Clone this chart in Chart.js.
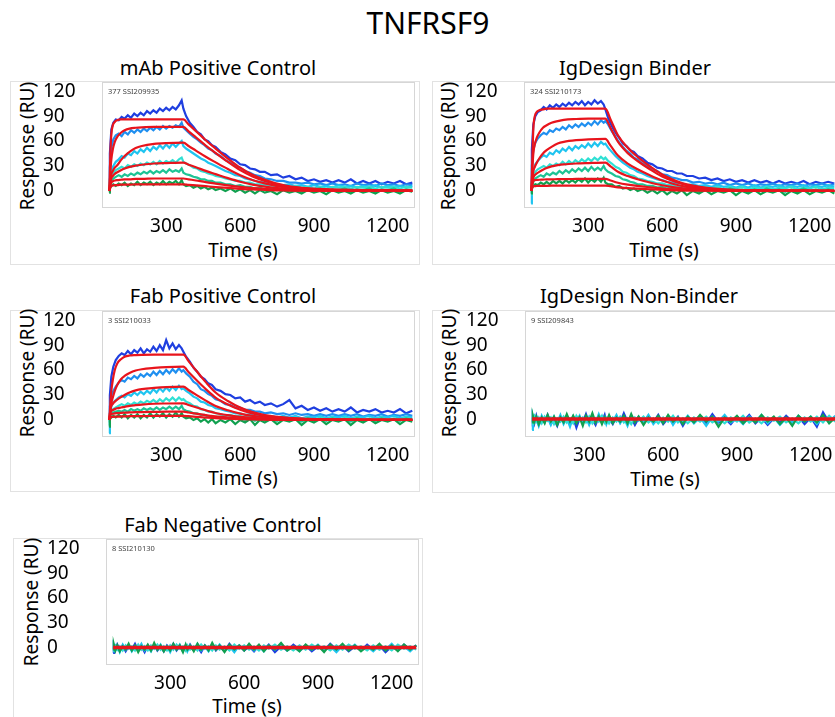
<!DOCTYPE html>
<html>
<head>
<meta charset="utf-8">
<script src="https://cdn.jsdelivr.net/npm/chart.js@4.4.1/dist/chart.umd.min.js"></script>
<style>
  html, body { margin: 0; padding: 0; background: #fff; }
  body { width: 835px; height: 717px; overflow: hidden; position: relative; font-family: "Noto Sans", sans-serif; color: #000; }
  .box { position: absolute; border: 1px solid #e2e2e2; box-sizing: border-box; }
  .lbl { position: absolute; white-space: nowrap; transform: translate(-50%, -50%); }
  .ptitle { font-size: 20px; }
  .xtitle { font-size: 19px; }
  .ytitle { position: absolute; white-space: nowrap; font-size: 19px; transform: translate(-50%, -50%) rotate(-90deg); }
  canvas { position: absolute; }
</style>
</head>
<body>
<div class="lbl" style="left:428px;top:22px;font-size:30px">TNFRSF9</div>

<div class="box" style="left:10px;top:81px;width:410px;height:184px"></div>
<div class="box" style="left:432px;top:81px;width:410px;height:184px"></div>
<div class="box" style="left:10px;top:310px;width:410px;height:182px"></div>
<div class="box" style="left:432px;top:310px;width:410px;height:183px"></div>
<div class="box" style="left:13px;top:538px;width:410px;height:190px"></div>

<div class="lbl ptitle" style="left:218px;top:67px">mAb Positive Control</div>
<div class="lbl ptitle" style="left:635px;top:67px">IgDesign Binder</div>
<div class="lbl ptitle" style="left:223px;top:295px">Fab Positive Control</div>
<div class="lbl ptitle" style="left:639px;top:295px">IgDesign Non-Binder</div>
<div class="lbl ptitle" style="left:223px;top:524px">Fab Negative Control</div>

<div class="ytitle" style="left:27px;top:146px">Response (RU)</div>
<div class="ytitle" style="left:448px;top:146px">Response (RU)</div>
<div class="ytitle" style="left:27px;top:373px">Response (RU)</div>
<div class="ytitle" style="left:449px;top:373px">Response (RU)</div>
<div class="ytitle" style="left:31px;top:602px">Response (RU)</div>

<div class="lbl xtitle" style="left:243px;top:250px">Time (s)</div>
<div class="lbl xtitle" style="left:664px;top:250px">Time (s)</div>
<div class="lbl xtitle" style="left:243px;top:478px">Time (s)</div>
<div class="lbl xtitle" style="left:665px;top:479px">Time (s)</div>
<div class="lbl xtitle" style="left:247px;top:706px">Time (s)</div>

<canvas id="c1" width="415" height="178" style="left:0px;top:70px"></canvas>
<canvas id="c2" width="415" height="178" style="left:422px;top:70px"></canvas>
<canvas id="c3" width="415" height="178" style="left:0px;top:299px"></canvas>
<canvas id="c4" width="415" height="178" style="left:423px;top:299px"></canvas>
<canvas id="c5" width="415" height="178" style="left:4px;top:527px"></canvas>

<script>
// sample times (s) of the sensorgram traces
const sampleTimes = [67, 70, 76, 84, 94, 106, 118, 130, 143, 156,
  169, 182, 195, 208, 221, 234, 247, 260, 273, 286,
  299, 312, 325, 338, 351, 362, 369, 380, 395, 410,
  425, 440, 455, 470, 485, 500, 520, 540, 560, 580,
  600, 620, 640, 660, 680, 700, 725, 750, 775, 800,
  825, 850, 875, 900, 925, 950, 975, 1000, 1025, 1050,
  1075, 1100, 1125, 1150, 1175, 1200, 1225, 1250, 1275, 1300];
// times of the fitted curves
const fitTimes = [68, 72, 76, 82, 90, 100, 115, 130, 150, 175, 200, 250, 300, 369,
  390, 420, 460, 500, 550, 600, 650, 700, 775, 850, 950, 1050, 1150, 1300];
const flatFitTimes = [67, 1300];

const xTickValues = [300, 600, 900, 1200];
const yTickValues = [0, 30, 60, 90, 120];
const sampleIds = ['377 SSI209935', '324 SSI210173', '3 SSI210033', '9 SSI209843', '8 SSI210130'];

// mAb Positive Control
const mabBlue = [3, 45, 74, 82, 86, 85, 89, 87, 91, 88,
  93, 90, 94, 91, 96, 93, 97, 94, 99, 96,
  100, 97, 101, 98, 103, 109, 99, 90, 82, 77,
  71, 68, 62, 60, 55, 53, 47, 44, 39, 37,
  32, 31, 27, 26, 23, 23, 19, 20, 16, 18,
  14, 16, 12, 14, 11, 13, 10, 13, 10, 14,
  9, 12, 9, 12, 8, 11, 9, 12, 8, 10];
const mabMidBlue = [1, 28, 52, 62, 67, 69, 66, 71, 68, 73,
  70, 74, 71, 75, 72, 76, 73, 77, 74, 78,
  75, 78, 76, 79, 77, 82, 76, 73, 69, 65,
  62, 58, 55, 51, 49, 45, 42, 37, 34, 30,
  28, 24, 22, 19, 18, 15, 14, 12, 12, 10,
  10, 9, 10, 8, 9, 7, 9, 7, 8, 6,
  9, 7, 8, 6, 9, 7, 8, 6, 8, 7];
const mabCyan = [0, 14, 24, 30, 35, 38, 42, 40, 45, 43,
  48, 45, 50, 47, 52, 48, 53, 50, 55, 51,
  56, 52, 57, 53, 57, 60, 54, 51, 48, 45,
  42, 39, 37, 34, 32, 30, 27, 24, 22, 19,
  18, 15, 14, 12, 11, 10, 9, 8, 7, 8,
  6, 7, 5, 7, 5, 6, 4, 7, 5, 6,
  4, 6, 5, 7, 4, 6, 5, 6, 4, 6];
const mabAqua = [0, 10, 17, 22, 25, 27, 29, 27, 31, 29,
  32, 30, 33, 31, 34, 32, 35, 32, 36, 33,
  36, 34, 37, 34, 38, 40, 35, 33, 31, 28,
  27, 24, 23, 21, 20, 18, 17, 15, 14, 12,
  12, 10, 10, 8, 8, 7, 7, 5, 6, 4,
  6, 4, 5, 3, 5, 3, 5, 4, 5, 3,
  5, 4, 5, 3, 5, 4, 5, 3, 5, 4];
const mabTeal = [0, 7, 12, 15, 17, 19, 17, 20, 18, 21,
  19, 22, 20, 23, 21, 24, 21, 24, 22, 25,
  22, 26, 23, 25, 23, 27, 22, 20, 19, 17,
  16, 14, 14, 12, 12, 10, 10, 8, 8, 6,
  7, 5, 5, 3, 4, 2, 4, 1, 3, 1,
  3, 0, 3, 1, 3, 0, 2, 1, 3, 0,
  2, 1, 3, 0, 2, 1, 3, 0, 2, 1];
const mabGreen = [-2, 3, 6, 8, 6, 9, 7, 10, 6, 9,
  7, 11, 7, 10, 8, 11, 7, 10, 8, 12,
  8, 11, 9, 12, 8, 13, 8, 6, 7, 4,
  6, 3, 5, 2, 4, 1, 3, 0, 3, -1,
  2, -2, 1, -3, 1, -2, 0, -4, 1, -2,
  0, -3, 1, -2, 0, -4, 1, -2, 0, -3,
  1, -2, 0, -3, 1, -2, 0, -3, 1, -1];
const mabFit1 = [0, 45, 68, 79, 83, 85, 86, 86, 86, 86, 86, 86, 86, 86,
  80, 72, 61, 51, 39, 28, 19.5, 13.5, 7, 3.8, 2, 1.2, 0.8, 0.5];
const mabFit2 = [0, 22, 38, 50, 59, 65, 70, 73, 75, 76, 76.5, 77, 77, 77,
  71.6, 64.5, 54.6, 45.7, 34.9, 25.1, 17.5, 12.1, 6.2, 3.4, 1.8, 1.1, 0.7, 0.5];
const mabFit3 = [0, 12, 20, 24, 28, 31, 37, 42, 47, 51.5, 54, 56.5, 57.5, 58,
  54, 48.5, 41.1, 34.4, 26.3, 18.9, 13.2, 9.1, 4.7, 2.6, 1.3, 0.8, 0.5, 0.3];
const mabFit4 = [0, 10, 15, 18, 20.5, 22.5, 25, 27, 29, 30.5, 31.5, 33, 33.5, 34,
  31.6, 28.5, 24.1, 20.2, 15.4, 11.1, 7.7, 5.3, 2.8, 1.5, 0.8, 0.5, 0.3, 0.2];
const mabFit5 = [0, 7, 10, 11.5, 12.5, 13, 13.5, 14, 14, 14.5, 14.5, 15, 15, 15,
  14, 12.6, 10.6, 8.9, 6.8, 4.9, 3.4, 2.4, 1.2, 0.7, 0.3, 0.2, 0.1, 0.1];
const mabFit6 = [0, 4, 6, 6.5, 7, 7, 7.5, 7.5, 7.5, 8, 8, 8, 8, 8,
  7.4, 6.7, 5.7, 4.7, 3.6, 2.6, 1.8, 1.3, 0.6, 0.4, 0.2, 0.1, 0.1, 0];

// IgDesign Binder
const igbBlue = [2, 50, 80, 90, 95, 97, 101, 98, 103, 100,
  104, 101, 105, 102, 106, 103, 107, 104, 108, 103,
  107, 104, 109, 105, 108, 104, 98, 88, 78, 70,
  64, 57, 54, 49, 47, 42, 39, 34, 32, 28,
  27, 24, 24, 21, 21, 18, 18, 15, 16, 13,
  15, 12, 14, 11, 13, 10, 13, 10, 12, 9,
  12, 9, 11, 9, 12, 8, 11, 9, 11, 9];
const igbMidBlue = [1, 30, 50, 58, 63, 67, 70, 68, 73, 71,
  75, 73, 77, 74, 79, 76, 80, 77, 81, 78,
  82, 79, 84, 80, 85, 82, 84, 80, 72, 65,
  58, 53, 48, 45, 40, 38, 33, 30, 26, 24,
  20, 19, 16, 15, 13, 13, 10, 11, 9, 10,
  8, 10, 7, 9, 7, 9, 6, 8, 7, 9,
  6, 8, 7, 9, 6, 8, 7, 9, 6, 8];
const igbCyan = [-15, 12, 25, 32, 36, 40, 43, 41, 46, 44,
  49, 46, 51, 48, 53, 49, 54, 51, 55, 52,
  57, 53, 58, 54, 59, 56, 57, 52, 47, 42,
  38, 34, 31, 28, 26, 23, 21, 18, 16, 14,
  13, 11, 10, 9, 9, 7, 8, 6, 7, 5,
  7, 5, 6, 4, 6, 4, 7, 4, 6, 5,
  7, 4, 6, 5, 7, 4, 6, 5, 7, 5];
const igbAqua = [-4, 10, 18, 23, 26, 28, 30, 28, 32, 30,
  33, 31, 35, 32, 36, 33, 37, 34, 38, 35,
  39, 36, 40, 37, 41, 38, 40, 36, 33, 29,
  27, 23, 22, 19, 18, 15, 14, 12, 11, 9,
  9, 7, 7, 5, 6, 4, 5, 3, 5, 3,
  5, 2, 5, 3, 5, 2, 4, 3, 5, 2,
  4, 3, 5, 2, 4, 3, 5, 2, 4, 3];
const igbTeal = [0, 6, 11, 15, 17, 19, 17, 21, 19, 22,
  20, 24, 21, 25, 22, 26, 23, 27, 24, 28,
  24, 29, 25, 28, 25, 30, 26, 23, 21, 18,
  17, 14, 13, 11, 10, 8, 8, 6, 6, 4,
  5, 3, 4, 2, 3, 1, 3, 0, 3, 1,
  2, 0, 3, 1, 2, -1, 2, 0, 3, 0,
  2, -1, 2, 0, 3, 0, 2, -1, 2, 0];
const igbGreen = [-3, 3, 6, 8, 7, 10, 8, 11, 8, 12,
  9, 12, 9, 13, 10, 13, 10, 14, 11, 15,
  10, 14, 11, 15, 11, 16, 10, 8, 8, 5,
  6, 3, 4, 1, 3, 0, 2, -2, 1, -3,
  1, -4, 0, -3, 1, -5, 0, -3, 1, -4,
  0, -2, 1, -5, 0, -3, 1, -4, 0, -2,
  1, -5, 0, -3, 1, -4, 0, -2, 1, -3];
const igbFit1 = [0, 40, 75, 90, 95, 97, 98, 99, 99, 99, 99, 99, 99, 99,
  86, 67, 52, 41, 29.7, 19.8, 12.9, 7.9, 4, 2, 1, 0.5, 0.3, 0.1];
const igbFit2 = [0, 25, 45, 56, 64, 70, 76, 79, 82, 84, 85.5, 86.5, 87, 87,
  75.7, 59.2, 45.5, 36, 26.1, 17.4, 11.3, 7, 3.5, 1.7, 0.9, 0.4, 0.3, 0.1];
const igbFit3 = [0, 14, 24, 29, 34, 39, 45, 49, 53, 57, 59, 61, 62, 62.5,
  54.4, 42.5, 32.8, 26, 18.8, 12.5, 8.1, 5, 2.5, 1.3, 0.6, 0.3, 0.2, 0.1];
const igbFit4 = [0, 10, 16, 19, 21, 23, 25.5, 27.5, 29.5, 31, 32, 33, 33.5, 34,
  29.6, 23.1, 17.9, 14.1, 10.2, 6.8, 4.4, 2.7, 1.4, 0.7, 0.3, 0.2, 0.1, 0];
const igbFit5 = [0, 8, 12, 13, 13.2, 13.5, 13.7, 13.9, 14, 14.2, 14.3, 14.4, 14.5, 14.5,
  12.6, 9.9, 7.6, 6, 4.4, 2.9, 1.9, 1.2, 0.6, 0.3, 0.1, 0.1, 0, 0];
const igbFit6 = [0, 4, 5.5, 5.8, 6, 6, 6.1, 6.2, 6.3, 6.4, 6.4, 6.5, 6.5, 6.5,
  5.7, 4.4, 3.4, 2.7, 2, 1.3, 0.8, 0.5, 0.3, 0.1, 0.1, 0, 0, 0];

// Fab Positive Control
const fabBlue = [3, 30, 52, 64, 72, 77, 80, 78, 83, 79,
  84, 81, 86, 80, 85, 82, 88, 83, 90, 84,
  96, 86, 92, 85, 90, 86, 82, 76, 70, 63,
  58, 52, 49, 44, 42, 37, 35, 31, 30, 26,
  27, 22, 24, 20, 22, 18, 20, 16, 19, 24,
  14, 17, 12, 15, 11, 14, 10, 13, 10, 15,
  9, 12, 10, 13, 9, 11, 9, 13, 8, 11];
const fabMidBlue = [1, 16, 28, 35, 40, 45, 48, 46, 51, 49,
  53, 50, 55, 52, 56, 53, 58, 54, 59, 55,
  60, 56, 61, 57, 62, 58, 60, 56, 52, 46,
  43, 37, 35, 31, 29, 25, 23, 19, 18, 15,
  15, 12, 12, 10, 10, 8, 9, 7, 8, 6,
  8, 6, 7, 5, 7, 5, 7, 5, 7, 5,
  7, 4, 6, 5, 7, 4, 6, 5, 7, 5];
const fabCyan = [-16, 8, 16, 21, 24, 27, 29, 27, 31, 29,
  33, 30, 34, 31, 35, 32, 37, 33, 38, 34,
  39, 35, 40, 36, 41, 37, 38, 35, 32, 28,
  26, 22, 21, 18, 17, 14, 13, 11, 10, 8,
  8, 6, 7, 5, 6, 4, 5, 3, 5, 3,
  5, 2, 4, 3, 5, 2, 4, 3, 5, 2,
  4, 3, 5, 2, 4, 3, 5, 2, 4, 3];
const fabAqua = [-6, 5, 10, 13, 15, 17, 19, 17, 20, 18,
  21, 19, 22, 20, 23, 21, 24, 21, 25, 22,
  26, 23, 27, 23, 27, 24, 25, 22, 20, 17,
  16, 13, 12, 10, 10, 8, 7, 5, 6, 4,
  5, 3, 4, 2, 4, 2, 3, 1, 3, 1,
  3, 1, 3, 0, 3, 1, 3, 0, 3, 1,
  3, 0, 2, 1, 3, 0, 2, 1, 3, 1];
const fabTeal = [-3, 4, 7, 9, 10, 11, 10, 12, 10, 13,
  11, 13, 11, 14, 12, 14, 12, 15, 12, 15,
  13, 16, 13, 16, 13, 17, 13, 11, 10, 8,
  8, 6, 6, 4, 5, 3, 4, 2, 3, 1,
  2, 0, 2, -1, 2, 0, 1, -1, 2, 0,
  1, -2, 2, 0, 1, -1, 2, 0, 1, -2,
  2, 0, 1, -1, 2, 0, 1, -1, 2, 0];
const fabGreen = [-8, 1, 3, 5, 3, 6, 3, 7, 2, 6,
  3, 7, 2, 6, 3, 8, 3, 7, 4, 8,
  3, 7, 4, 9, 4, 8, 4, 2, 3, 0,
  2, -2, 1, -3, 1, -4, 0, -3, 1, -5,
  0, -3, 1, -6, 0, -3, 1, -5, 0, -2,
  1, -6, 0, -3, 1, -5, 0, -2, 1, -6,
  0, -3, 1, -4, 0, -2, 1, -5, 0, -2];
const fabFit1 = [0, 20, 35, 48, 60, 68, 73, 76, 77.5, 78, 78.3, 78.5, 78.5, 78.5,
  70.7, 59.7, 45.5, 33, 22.8, 14.9, 9.4, 5.9, 3.1, 1.6, 0.8, 0.4, 0.2, 0.1];
const fabFit2 = [0, 12, 20, 27, 35, 42, 49, 53, 56.5, 59.5, 61, 62.5, 63.5, 64,
  57.6, 48.6, 37.1, 26.9, 18.6, 12.2, 7.7, 4.8, 2.6, 1.3, 0.6, 0.3, 0.2, 0.1];
const fabFit3 = [0, 12, 17, 19.5, 22, 24.5, 27.5, 30, 33, 35.5, 37, 38.5, 39.5, 40,
  36, 30.4, 23.2, 16.8, 11.6, 7.6, 4.8, 3, 1.6, 0.8, 0.4, 0.2, 0.1, 0];
const fabFit4 = [0, 8, 11, 12, 13, 14, 15, 15.8, 17, 17.8, 18.5, 19.5, 19.8, 20,
  18, 15.2, 11.6, 8.4, 5.8, 3.8, 2.4, 1.5, 0.8, 0.4, 0.2, 0.1, 0.1, 0];
const fabFit5 = [0, 6, 7, 7.5, 8, 8.3, 8.6, 8.8, 9, 9.3, 9.5, 9.7, 9.9, 10,
  9, 7.6, 5.8, 4.2, 2.9, 1.9, 1.2, 0.8, 0.4, 0.2, 0.1, 0, 0, 0];
const fabFit6 = [0, 3, 3.5, 3.8, 4, 4, 4.2, 4.3, 4.5, 4.6, 4.7, 4.8, 4.9, 5,
  4.5, 3.8, 2.9, 2.1, 1.5, 1, 0.6, 0.4, 0.2, 0.1, 0, 0, 0, 0];

// IgDesign Non-Binder
const ignbBlue = [-8, 3, -4, 5, -6, 2, -3, 6, -5, 1,
  -7, 4, -2, 5, -4, 3, -9, 2, -3, 7,
  -4, 1, -6, 4, -2, 6, -3, 2, -5, 4,
  -3, 8, -2, 3, -6, 2, -4, 5, -3, 6,
  -5, 2, -3, 4, -7, 3, -2, 5, -4, 7,
  -3, 2, -5, 4, -2, 6, -4, 3, -6, 2,
  -3, 5, -2, 4, -5, 3, -8, 9, -3, 4];
const ignbCyan = [-12, 4, -3, 2, -7, 5, -2, 3, -6, 4,
  -3, 6, -5, 2, -8, 4, -2, 5, -4, 3,
  -6, 4, -3, 7, -2, 3, -5, 4, -2, 6,
  -4, 3, -7, 5, -2, 4, -3, 6, -5, 2,
  -3, 5, -6, 3, -2, 5, -4, 3, -7, 4,
  -2, 6, -3, 2, -5, 4, -2, 6, -4, 3,
  -6, 2, -3, 5, -2, 4, -5, 3, -2, 5];
const ignbAqua = [-5, 2, 5, -2, 3, -4, 4, -1, 3, -5,
  2, -2, 4, -3, 2, -4, 5, -1, 3, -3,
  4, -4, 2, -2, 5, -3, 2, -4, 3, -2,
  4, -3, 2, -5, 3, -1, 4, -3, 2, -4,
  3, -2, 5, -3, 2, -4, 3, -2, 4, -3,
  2, -4, 3, -2, 5, -3, 2, -4, 3, -1,
  4, -3, 2, -4, 3, -2, 4, -3, 5, -2];
const ignbGreen = [-3, 5, -2, 4, -5, 3, -4, 6, -2, 4,
  -6, 3, -3, 7, -2, 5, -4, 3, -7, 5,
  -2, 8, -3, 4, -5, 3, -2, 6, -4, 3,
  -2, 5, -4, 7, -3, 4, -6, 3, -2, 5,
  -4, 6, -2, 3, -5, 4, -3, 6, -2, 4,
  -8, 3, -2, 5, -4, 3, -3, 6, -2, 4,
  -5, 3, -7, 5, -2, 4, -3, 6, -4, 3];
const ignbFit = [1, 1];

// Fab Negative Control
const fabnBlue = [-6, 2, -3, 4, -2, 3, -4, 2, -2, 5,
  -3, 2, -5, 3, -2, 4, -3, 2, -4, 3,
  -2, 5, -3, 2, -4, 3, -2, 4, -3, 2,
  -5, 3, -2, 4, -3, 2, -4, 5, -2, 3,
  -3, 2, -4, 3, -2, 4, -5, 2, -3, 4,
  -2, 3, -4, 2, -3, 5, -2, 3, -4, 2,
  -3, 4, -2, 3, -5, 2, -3, 4, -2, 3];
const fabnCyan = [-4, 3, -2, 2, -5, 4, -2, 3, -4, 2,
  -2, 5, -3, 2, -4, 3, -2, 4, -3, 2,
  -5, 3, -2, 4, -3, 2, -4, 3, -2, 5,
  -3, 2, -4, 3, -2, 4, -3, 2, -5, 3,
  -2, 4, -3, 2, -4, 3, -2, 5, -3, 2,
  -4, 3, -2, 4, -3, 2, -5, 3, -2, 4,
  -3, 2, -4, 3, -2, 5, -3, 2, -4, 3];
const fabnAqua = [-3, 1, 3, -2, 2, -3, 3, -1, 2, -3,
  4, -2, 2, -3, 3, -1, 4, -2, 2, -3,
  3, -2, 4, -1, 2, -3, 3, -2, 2, -3,
  4, -1, 2, -3, 3, -2, 2, -3, 4, -1,
  3, -2, 2, -3, 3, -1, 4, -2, 2, -3,
  3, -2, 4, -1, 2, -3, 3, -2, 4, -1,
  2, -3, 3, -2, 2, -3, 4, -1, 2, -2];
const fabnGreen = [-2, 4, -3, 3, -4, 2, -2, 5, -3, 3,
  -5, 2, -2, 4, -3, 6, -2, 3, -4, 2,
  -3, 5, -2, 3, -5, 4, -2, 3, -4, 5,
  -2, 3, -3, 6, -2, 3, -5, 4, -2, 3,
  -3, 5, -2, 4, -4, 3, -2, 6, -3, 2,
  -4, 4, -2, 3, -5, 4, -2, 5, -3, 3,
  -4, 2, -2, 5, -3, 3, -4, 4, -2, 3];
const fabnFit = [0.5, 0.5];

const curveColors = ['#1f3fe0', '#1f8ff0', '#1fc4f0', '#2fe0d4', '#1dc495', '#11a04f'];
const flatColors = ['#1f3fe0', '#1fc4f0', '#2fe0d4', '#11a04f'];
const fitColor = '#e8141c';

Chart.defaults.font.family = '"Noto Sans", sans-serif';

// light frame round the plot area plus the small sample id in its corner
const plotFrame = {
    id: 'plotFrame',
    beforeDatasetsDraw(chart) {
        const { ctx, chartArea: a } = chart;
        ctx.save();
        ctx.strokeStyle = '#d6d6d6';
        ctx.lineWidth = 1;
        ctx.strokeRect(a.left + 0.5, a.top + 0.5, a.width - 1, a.height - 1);
        ctx.restore();
    },
    afterDraw(chart, args, opts) {
        const { ctx, chartArea: a } = chart;
        ctx.save();
        ctx.fillStyle = '#444';
        ctx.font = '7.5px "Noto Sans"';
        ctx.textBaseline = 'middle';
        ctx.fillText(opts.label, a.left + 6, a.top + 10);
        ctx.restore();
    }
};

function makePanel(canvasId, curves, colors, fits, fitX, sampleId, fitWidth) {
    const datasets = [];
    curves.forEach((vals, i) => datasets.push({
        data: sampleTimes.map((t, j) => ({ x: t, y: vals[j] })),
        borderColor: colors[i],
        borderWidth: 2.2,
        pointRadius: 0,
        tension: 0,
        order: 10 - i
    }));
    fits.forEach(vals => datasets.push({
        data: fitX.map((t, j) => ({ x: t, y: vals[j] })),
        borderColor: fitColor,
        borderWidth: fitWidth,
        pointRadius: 0,
        cubicInterpolationMode: 'monotone',
        order: 0
    }));

    new Chart(document.getElementById(canvasId), {
        type: 'line',
        data: { datasets },
        plugins: [plotFrame],
        options: {
            responsive: false,
            animation: false,
            devicePixelRatio: 1,
            layout: { padding: { left: 43, top: 12, right: 0, bottom: 0 } },
            plugins: {
                legend: { display: false },
                tooltip: { enabled: false },
                plotFrame: { label: sampleId }
            },
            scales: {
                x: {
                    type: 'linear',
                    min: 38,
                    max: 1311,
                    grid: { display: false, drawTicks: false },
                    border: { display: false },
                    ticks: { color: '#000', font: { size: 19 }, padding: 7, maxRotation: 0, autoSkip: false, callback: v => String(v) },
                    afterBuildTicks: s => { s.ticks = xTickValues.map(v => ({ value: v })); },
                    afterFit: s => { s.height = 40; s.paddingLeft = 0; s.paddingRight = 0; }
                },
                y: {
                    type: 'linear',
                    min: -20.5,
                    max: 131,
                    grid: { display: false, drawTicks: false },
                    border: { display: false },
                    ticks: { color: '#000', font: { size: 19 }, padding: 26, crossAlign: 'far', autoSkip: false, callback: v => String(v) },
                    afterBuildTicks: s => { s.ticks = yTickValues.map(v => ({ value: v })); },
                    // keep the label padding from pushing the plot area down
                    afterFit: s => { s.width = 59; s.paddingTop = 0; s.paddingBottom = 0; }
                }
            }
        }
    });
}

makePanel('c1', [mabBlue, mabMidBlue, mabCyan, mabAqua, mabTeal, mabGreen], curveColors,
    [mabFit1, mabFit2, mabFit3, mabFit4, mabFit5, mabFit6], fitTimes, sampleIds[0], 2.2);
makePanel('c2', [igbBlue, igbMidBlue, igbCyan, igbAqua, igbTeal, igbGreen], curveColors,
    [igbFit1, igbFit2, igbFit3, igbFit4, igbFit5, igbFit6], fitTimes, sampleIds[1], 2.2);
makePanel('c3', [fabBlue, fabMidBlue, fabCyan, fabAqua, fabTeal, fabGreen], curveColors,
    [fabFit1, fabFit2, fabFit3, fabFit4, fabFit5, fabFit6], fitTimes, sampleIds[2], 2.2);
makePanel('c4', [ignbBlue, ignbCyan, ignbAqua, ignbGreen], flatColors,
    [ignbFit], flatFitTimes, sampleIds[3], 3.5);
makePanel('c5', [fabnBlue, fabnCyan, fabnAqua, fabnGreen], flatColors,
    [fabnFit], flatFitTimes, sampleIds[4], 3.5);
</script>
</body>
</html>
